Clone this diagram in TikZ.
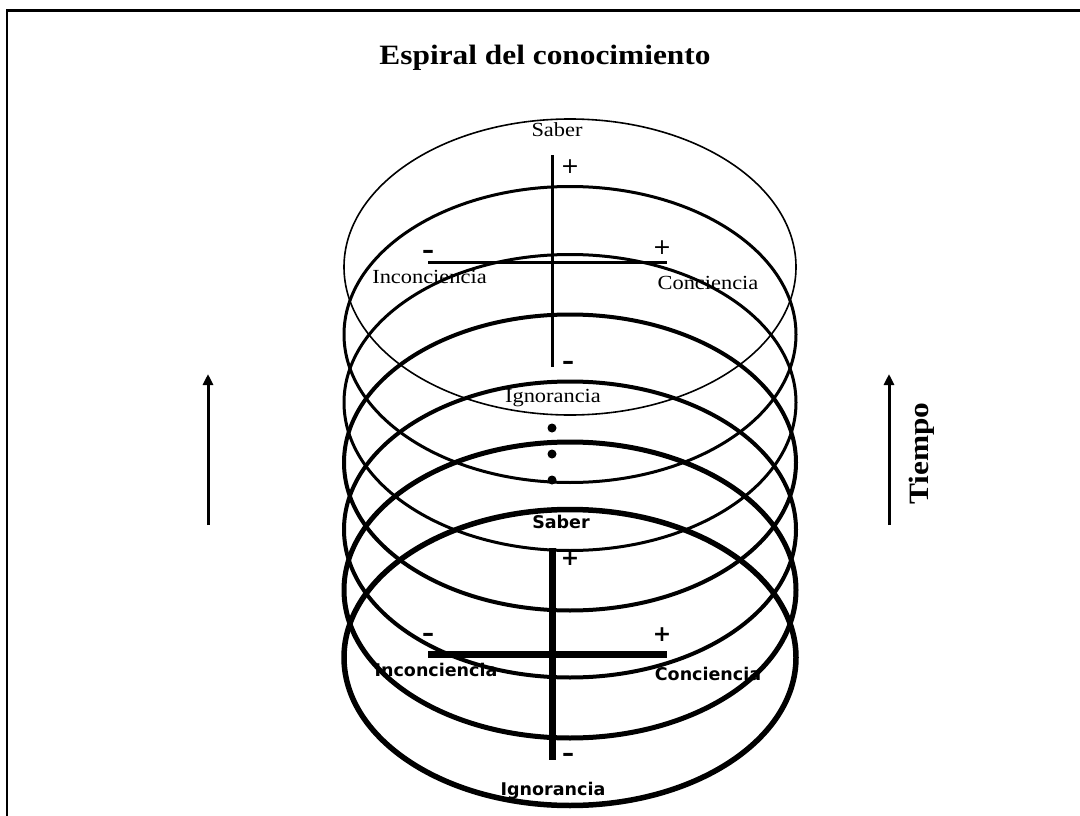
\documentclass[tikz,border=0pt]{standalone}
\usepackage{fontspec}
\setmainfont{Liberation Serif}
\newfontfamily\serifw[FakeStretch=1.12]{Liberation Serif}
\newfontfamily\sansv{DejaVu Sans}
\usetikzlibrary{arrows.meta,shapes.geometric}
\tikzset{
  ring/.style={draw, ellipse, inner sep=0pt, outer sep=0pt, minimum width=452pt, minimum height=296pt, line width=#1},
  toplbl/.style={anchor=base, inner sep=0pt, font=\serifw\fontsize{20}{24}\selectfont},
  botlbl/.style={anchor=base, inner sep=0pt, font=\sansv\bfseries\fontsize{17.5}{21}\selectfont},
  topsgn/.style={inner sep=0pt, font=\sansv\fontsize{22}{26}\selectfont},
  botsgn/.style={inner sep=0pt, font=\sansv\bfseries\fontsize{22}{26}\selectfont},
  minsgn/.style={anchor=base, inner sep=0pt, font=\sansv\bfseries\fontsize{24}{28}\selectfont},
  dotn/.style={circle, fill=black, inner sep=0pt, minimum size=9pt},
  timearrow/.style={line width=3pt, -{Triangle[width=10pt,length=11pt]}},
  border/.style={line width=#1, line cap=rect}
}
\begin{document}
\begin{tikzpicture}[x=1pt,y=-1pt]
\useasboundingbox (0,0) rectangle (1080,816);
% frame
\coordinate (fa) at (7,11);
\coordinate (fb) at (1081,11);
\coordinate (fc) at (7,817);
\draw[border=3pt] (fa) -- (fb);
\draw[border=2.5pt] (fa) -- (fc);
% title
\node[anchor=base, inner sep=0pt, font=\serifw\bfseries\fontsize{28}{32}\selectfont] (title) at (545,65) {Espiral del conocimiento};
% rings
\node[ring=1.6pt] (e1) at (570,267) {};
\node[ring=3pt] (e2) at (570,334.5) {};
\node[ring=3pt] (e3) at (570,402.5) {};
\node[ring=4pt] (e4) at (570,462.5) {};
\node[ring=4pt] (e5) at (570,529.5) {};
\node[ring=5pt] (e6) at (570,590) {};
\node[ring=5.5pt] (e7) at (570,657.5) {};
% top cross
\coordinate (tv1) at (552,155);
\coordinate (tv2) at (552,367);
\coordinate (th1) at (428,262);
\coordinate (th2) at (667,262);
\draw[line width=3pt] (tv1) -- (tv2);
\draw[line width=3pt] (th1) -- (th2);
% bottom cross
\coordinate (bv1) at (552,548);
\coordinate (bv2) at (552,760);
\coordinate (bh1) at (428,654);
\coordinate (bh2) at (667,654);
\draw[line width=7pt] (bv1) -- (bv2);
\draw[line width=7pt] (bh1) -- (bh2);
% top labels
\node[toplbl] (tsaber) at (557,136) {Saber};
\node[toplbl] (tinc) at (429.5,283) {Inconciencia};
\node[toplbl] (tcon) at (708,289) {Conciencia};
\node[toplbl] (tign) at (553,402) {Ignorancia};
\node[topsgn] (tp1) at (570,167) {+};
\node[topsgn] (tp2) at (662,248) {+};
\node[minsgn] (tm1) at (428,258.5) {–};
\node[minsgn] (tm2) at (568,369.5) {–};
% dots
\node[dotn] (d1) at (552,428) {};
\node[dotn] (d2) at (552,454) {};
\node[dotn] (d3) at (552,480) {};
% bottom labels
\node[botlbl] (bsaber) at (561,528) {Saber};
\node[botlbl] (binc) at (436,676) {Inconciencia};
\node[botlbl] (bcon) at (708,680) {Conciencia};
\node[botlbl] (bign) at (553,795) {Ignorancia};
\node[botsgn] (bp1) at (570,559) {+};
\node[botsgn] (bp2) at (662,635) {+};
\node[minsgn] (bm1) at (428,641.5) {–};
\node[minsgn] (bm2) at (568,761.5) {–};
% time arrows
\coordinate (la0) at (208,525);
\coordinate (la1) at (208,374);
\coordinate (ra0) at (889,525);
\coordinate (ra1) at (889,374);
\draw[timearrow] (la0) -- (la1);
\draw[timearrow] (ra0) -- (ra1);
\node[anchor=base, rotate=90, inner sep=0pt, font=\serifw\bfseries\fontsize{28}{32}\selectfont] (tiempo) at (928,453.5) {Tiempo};
\end{tikzpicture}
\end{document}
